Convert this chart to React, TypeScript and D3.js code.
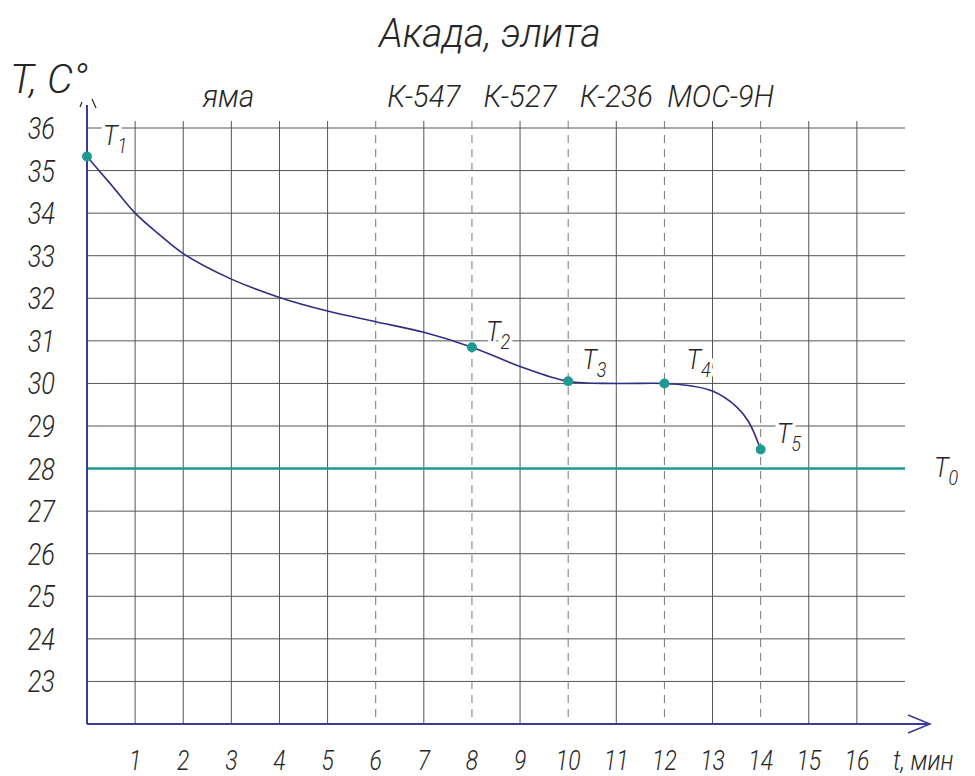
import React from "react";
import * as d3 from "d3";

// Temperature readings along the process, t in minutes, T in °C
const times = [0, 0.5, 1, 1.5, 2, 3, 4, 5, 6, 7, 8, 9, 10, 11, 12, 12.5, 13, 13.5, 13.75, 14];
const temps = [35.33, 34.67, 34.0, 33.5, 33.05, 32.45, 32.02, 31.7, 31.45, 31.2, 30.85, 30.4, 30.05, 30.0, 30.0, 29.95, 29.82, 29.45, 29.1, 28.45];

// Key points T1..T5
const keyTimes = [0, 8, 10, 12, 14];
const keyTemps = [35.33, 30.85, 30.05, 30.0, 28.45];
const keyNames = ["1", "2", "3", "4", "5"];

// Process stages and their boundaries (minutes)
const stageNames = ["яма", "К-547", "К-527", "К-236", "МОС-9Н"];
const stageBounds = [0, 6, 8, 10, 12, 14];

// Ambient temperature T0
const ambient = 28;

const xTicks = d3.range(1, 17);
const yTicks = d3.range(23, 37);

const FONT = "Roboto, 'Liberation Sans', sans-serif";
const INK = "#262626";
const AXIS = "#3a3a9c";
const CURVE = "#2e2e82";
const TEAL = "#1f9a92";

type TxtProps = {
  x: number;
  y: number;
  size: number;
  sx?: number;
  anchor?: "start" | "middle" | "end";
  halo?: boolean;
  children: React.ReactNode;
};

// Italic lettering, compressed horizontally around its anchor point
function Txt({ x, y, size, sx = 0.8, anchor = "start", halo = false, children }: TxtProps) {
  return (
    <text
      transform={`translate(${x},${y}) scale(${sx},1)`}
      textAnchor={anchor}
      fontSize={size}
      fontWeight={300}
      fill={INK}
      stroke={halo ? "#fff" : undefined}
      strokeWidth={halo ? 7 : undefined}
      paintOrder="stroke"
    >
      {children}
    </text>
  );
}

export default function App() {
  const width = 975;
  const height = 776;
  const x = d3.scaleLinear().domain([0, 17]).range([87, 905]);
  const y = d3.scaleLinear().domain([22, 36]).range([724, 128]);

  const pts: [number, number][] = times.map((t, i) => [t, temps[i]]);
  const line = d3
    .line<[number, number]>()
    .x((d) => x(d[0]))
    .y((d) => y(d[1]))
    .curve(d3.curveCatmullRom.alpha(0.5));

  const gridTop = 121;
  const dashed = new Set(stageBounds.filter((b) => b > 0));

  const labelOffsets: [number, number][] = [
    [16, -12],
    [14, -6],
    [14, -12],
    [22, -14],
    [16, -6],
  ];

  return (
    <svg
      width={width}
      height={height}
      style={{ position: "absolute", left: 0, top: 0, background: "#fff" }}
      fontFamily={FONT}
      fontStyle="italic"
    >
      {/* title */}
      <Txt x={490} y={47} size={40} sx={0.97} anchor="middle">
        Акада, элита
      </Txt>

      {/* horizontal grid */}
      {yTicks.map((v) => (
        <line key={"h" + v} x1={x(0)} x2={x(17)} y1={y(v)} y2={y(v)} stroke="#555" strokeWidth={1} />
      ))}
      {/* vertical grid */}
      {xTicks.map((t) => (
        <line
          key={"v" + t}
          x1={x(t)}
          x2={x(t)}
          y1={gridTop}
          y2={y(22)}
          stroke={dashed.has(t) ? "#777" : "#555"}
          strokeWidth={1}
          strokeDasharray={dashed.has(t) ? "8 6" : undefined}
        />
      ))}

      {/* ambient line */}
      <line x1={x(0)} x2={x(17)} y1={y(ambient)} y2={y(ambient)} stroke={TEAL} strokeWidth={2.5} />

      {/* axes */}
      <line x1={x(0)} x2={x(0)} y1={y(22)} y2={105} stroke={AXIS} strokeWidth={2} />
      <line x1={80} y1={107} x2={82} y2={102} stroke={INK} strokeWidth={1.2} />
      <line x1={92} y1={99} x2={96} y2={108} stroke={INK} strokeWidth={1.2} />
      <line x1={x(0)} x2={930} y1={y(22)} y2={y(22)} stroke={AXIS} strokeWidth={2} />
      <path d={`M908,${y(22) - 9} L930,${y(22)} L908,${y(22) + 9}`} fill="none" stroke={AXIS} strokeWidth={1.5} />

      {/* y tick labels */}
      {yTicks.map((v) => (
        <Txt key={"yl" + v} x={55} y={y(v) + 11} size={31} sx={0.82} anchor="end">
          {v}
        </Txt>
      ))}
      {/* x tick labels */}
      {xTicks.map((t) => (
        <Txt key={"xl" + t} x={x(t)} y={770} size={28} sx={0.82} anchor="middle">
          {t}
        </Txt>
      ))}
      <Txt x={893} y={770} size={28} sx={0.85}>
        t, мин
      </Txt>
      <Txt x={10} y={93} size={41} sx={1.0}>
        T, C°
      </Txt>

      {/* stage labels */}
      {stageNames.map((s, i) => (
        <Txt
          key={s}
          x={x((stageBounds[i] + stageBounds[i + 1]) / 2) + (i === 4 ? 8 : i === 0 ? -3 : 0)}
          y={107}
          size={32}
          sx={0.92}
          anchor="middle"
        >
          {s}
        </Txt>
      ))}

      {/* temperature curve */}
      <path d={line(pts) ?? ""} fill="none" stroke={CURVE} strokeWidth={1.6} />

      {/* key points */}
      {keyTimes.map((t, i) => (
        <circle key={"p" + i} cx={x(t)} cy={y(keyTemps[i])} r={5} fill={TEAL} />
      ))}
      {keyTimes.map((t, i) => (
        <Txt
          key={"pl" + i}
          x={x(t) + labelOffsets[i][0]}
          y={y(keyTemps[i]) + labelOffsets[i][1]}
          size={28}
          sx={0.9}
          halo
        >
          T
          <tspan fontSize={20} dy={8}>
            {keyNames[i]}
          </tspan>
        </Txt>
      ))}
      <Txt x={934} y={y(ambient) + 8} size={28} sx={0.9}>
        T
        <tspan fontSize={20} dy={8}>
          0
        </tspan>
      </Txt>
    </svg>
  );
}
